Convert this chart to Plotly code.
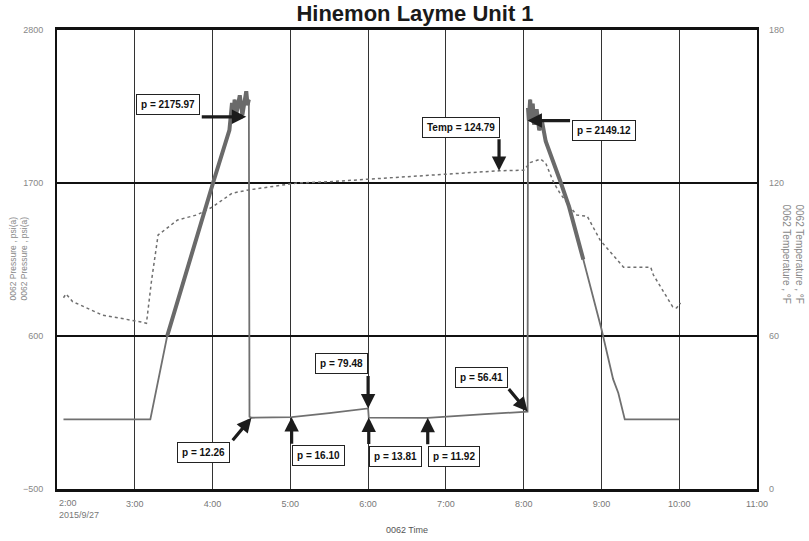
import plotly.graph_objects as go

DAY = "2015-09-27 "

# ---------------- data ----------------
pressure_time = ["02:05", "03:12", "03:25", "03:42", "04:01", "04:13", "04:15", "04:16",
                 "04:17", "04:18", "04:21", "04:23", "04:26", "04:27", "04:28", "04:28:30",
                 "04:30", "05:01", "05:30", "06:00", "06:00:30", "06:46", "07:30", "08:03",
                 "08:03:20", "08:04", "08:05", "08:06", "08:07", "08:08", "08:10", "08:12",
                 "08:14", "08:17", "08:28", "08:35", "08:46", "09:00", "09:09", "09:13",
                 "09:18", "10:00"]
pressure_psi = [0, 0, 600, 1140, 1720, 2080, 2275, 2150,
                2300, 2180, 2330, 2190, 2360, 2260, 2300, 20,
                12.26, 16.10, 46, 79.48, 13.81, 11.92, 38, 56.41,
                2240, 2150, 2300, 2140, 2270, 2120, 2230, 2080,
                2150, 2000, 1720, 1530, 1150, 650, 290, 190,
                0, 0]

temp_time = ["02:05", "02:07", "02:12", "02:35", "03:05", "03:09", "03:13", "03:18",
             "03:33", "03:48", "04:00", "04:15", "04:28", "05:05", "05:30", "06:00",
             "06:30", "07:00", "07:30", "07:41", "08:00", "08:05", "08:13", "08:17",
             "08:23", "08:28", "08:36", "08:41", "08:49", "08:59", "09:17", "09:38",
             "09:40", "09:55", "09:58", "10:01"]
temp_f = [75, 76.5, 73.5, 68.2, 65.5, 65, 82, 99.6,
          105.5, 107.5, 110.6, 116, 117.3, 120, 120.5, 121.5,
          122.5, 123.5, 124.3, 124.79, 125, 128, 129.4, 127.8,
          120.3, 116, 110.5, 107.4, 107, 97.6, 87, 87,
          84, 71.4, 71, 73]

# labelled readings (time, value)
label_time = ["04:26", "04:30", "05:01", "06:00", "06:00:30", "06:46", "08:03", "08:03"]
label_p = [2175.97, 12.26, 16.10, 79.48, 13.81, 11.92, 56.41, 2149.12]
temp_label_time = "07:41"
temp_label_value = 124.79

hour_ticks = ["02:00", "03:00", "04:00", "05:00", "06:00", "07:00", "08:00", "09:00", "10:00", "11:00"]
hour_text = ["2:00", "3:00", "4:00", "5:00", "6:00", "7:00", "8:00", "9:00", "10:00", "11:00"]
start_date_text = "2015/9/27"
p_ticks = [-500, 600, 1700, 2800]
t_ticks = [0, 60, 120, 180]
# thick (noisy) sections of the pressure record
thick_spans = [("03:25", "04:28"), ("08:03:20", "08:46")]


def ts(hm):
    return DAY + (hm if hm.count(":") == 2 else hm + ":00")


FONT = "Liberation Sans Narrow, Liberation Sans, Arial, sans-serif"

fig = go.Figure()

fig.add_trace(go.Scatter(
    x=[ts(t) for t in temp_time], y=temp_f, yaxis="y2", mode="lines",
    line=dict(color="#6f6f6f", width=1.5, dash="dot"), showlegend=False, hoverinfo="skip"))

fig.add_trace(go.Scatter(
    x=[ts(t) for t in pressure_time], y=pressure_psi, mode="lines",
    line=dict(color="#707070", width=1.8), showlegend=False, hoverinfo="skip"))

for a, b in thick_spans:
    sel = [i for i, t in enumerate(pressure_time) if ts(a) <= ts(t) <= ts(b)]
    fig.add_trace(go.Scatter(
        x=[ts(pressure_time[i]) for i in sel], y=[pressure_psi[i] for i in sel],
        mode="lines", line=dict(color="#6a6a6a", width=4), showlegend=False, hoverinfo="skip"))

# ---------------- annotations ----------------
# (index into labels, arrow ax, ay, box xanchor, yanchor, xshift, yshift)
layout_specs = [
    (0, -46, 0, "right", "middle", -46, 12),
    (1, -20, 24, "right", "top", -21, -24),
    (2, 0, 28, "left", "top", 0, -28),
    (3, 0, -34, "right", "bottom", 0, 34),
    (4, 0, 28, "left", "top", 0, -28),
    (5, 0, 28, "left", "top", 0, -28),
    (6, -20, -24, "right", "bottom", -20, 24),
    (7, 44, 0, "left", "middle", 44, -10),
]
annotations = []
box_font = dict(family=FONT, size=10, color="#111")
for i, ax, ay, xa, ya, xs, ys in layout_specs:
    x = ts(label_time[i])
    y = label_p[i]
    annotations.append(dict(x=x, y=y, xref="x", yref="y", text="", showarrow=True,
                            ax=ax, ay=ay, arrowhead=2, arrowsize=0.9, arrowwidth=3.2,
                            arrowcolor="#1c1c1c", standoff=0, startstandoff=0))
    annotations.append(dict(x=x, y=y, xref="x", yref="y", text="<b>p = %.2f</b>" % y,
                            showarrow=False, xanchor=xa, yanchor=ya, xshift=xs, yshift=ys,
                            bgcolor="white", bordercolor="#222", borderwidth=1, borderpad=4,
                            font=box_font))
# temperature label
annotations.append(dict(x=ts(temp_label_time), y=temp_label_value, xref="x", yref="y2", text="",
                        showarrow=True, ax=0, ay=-33, arrowhead=2, arrowsize=0.9, arrowwidth=3.2,
                        arrowcolor="#1c1c1c", standoff=0))
annotations.append(dict(x=ts(temp_label_time), y=temp_label_value, xref="x", yref="y2",
                        text="<b>Temp = %.2f</b>" % temp_label_value, showarrow=False,
                        xanchor="right", yanchor="bottom", xshift=1, yshift=33,
                        bgcolor="white", bordercolor="#222", borderwidth=1, borderpad=4,
                        font=box_font))

# axis titles
annotations.append(dict(xref="paper", yref="paper", x=0, y=0.5, xshift=-39, yshift=1,
                        xanchor="center", yanchor="middle", textangle=-90,
                        text="0062 Pressure , psi(a)<br>0062 Pressure , psi(a)", showarrow=False,
                        font=dict(family=FONT, size=8.5, color="#888")))
annotations.append(dict(xref="paper", yref="paper", x=1, y=0.5, xshift=36, yshift=6,
                        xanchor="center", yanchor="middle", textangle=90,
                        text="0062 Temperature , °F<br>0062 Temperature , °F", showarrow=False,
                        font=dict(family=FONT, size=10, color="#888")))
annotations.append(dict(xref="paper", yref="paper", x=0.5, y=0, yshift=-41, yanchor="middle",
                        text="0062 Time", showarrow=False,
                        font=dict(family=FONT, size=9, color="#555")))
# first tick label with date, left-aligned at the axis start
annotations.append(dict(xref="x", yref="paper", x=ts(hour_ticks[0]), y=0, yshift=-14,
                        xanchor="left", yanchor="middle", text=hour_text[0], showarrow=False,
                        font=dict(family=FONT, size=9, color="#777")))
annotations.append(dict(xref="x", yref="paper", x=ts(hour_ticks[0]), y=0, yshift=-26,
                        xanchor="left", yanchor="middle", text=start_date_text, showarrow=False,
                        font=dict(family=FONT, size=9, color="#777")))

fig.update_layout(
    width=809, height=541,
    margin=dict(l=57, r=52, t=30, b=52),
    paper_bgcolor="white", plot_bgcolor="white",
    title=dict(text="<b>Hinemon Layme Unit 1</b>", x=415 / 809, xref="container", xanchor="center",
               y=1 - 13 / 541, yanchor="middle",
               font=dict(family=FONT, size=22, color="#1a1a1a")),
    annotations=annotations,
    xaxis=dict(type="date", range=[ts(hour_ticks[0]), ts(hour_ticks[-1])],
               tickvals=[ts(t) for t in hour_ticks], ticktext=[""] + hour_text[1:],
               showgrid=True, gridcolor="#333", gridwidth=1.3,
               showline=True, linecolor="#111", linewidth=2.5, mirror=True,
               ticks="", ticklabelstandoff=4,
               tickfont=dict(family=FONT, size=9, color="#777"), zeroline=False),
    yaxis=dict(range=[p_ticks[0], p_ticks[-1]], tickvals=p_ticks,
               showgrid=True, gridcolor="#111", gridwidth=2,
               showline=True, linecolor="#111", linewidth=2, mirror=True,
               ticks="", ticklabelstandoff=10, zeroline=False,
               tickfont=dict(family=FONT, size=9, color="#888")),
    yaxis2=dict(range=[t_ticks[0], t_ticks[-1]], tickvals=t_ticks, overlaying="y", side="right",
                showgrid=False, showline=False, ticks="", ticklabelstandoff=11, zeroline=False,
                tickfont=dict(family=FONT, size=9, color="#888")),
)

fig.write_html("out.html", config={"displayModeBar": False},
               post_script="document.body.style.margin='0';")
